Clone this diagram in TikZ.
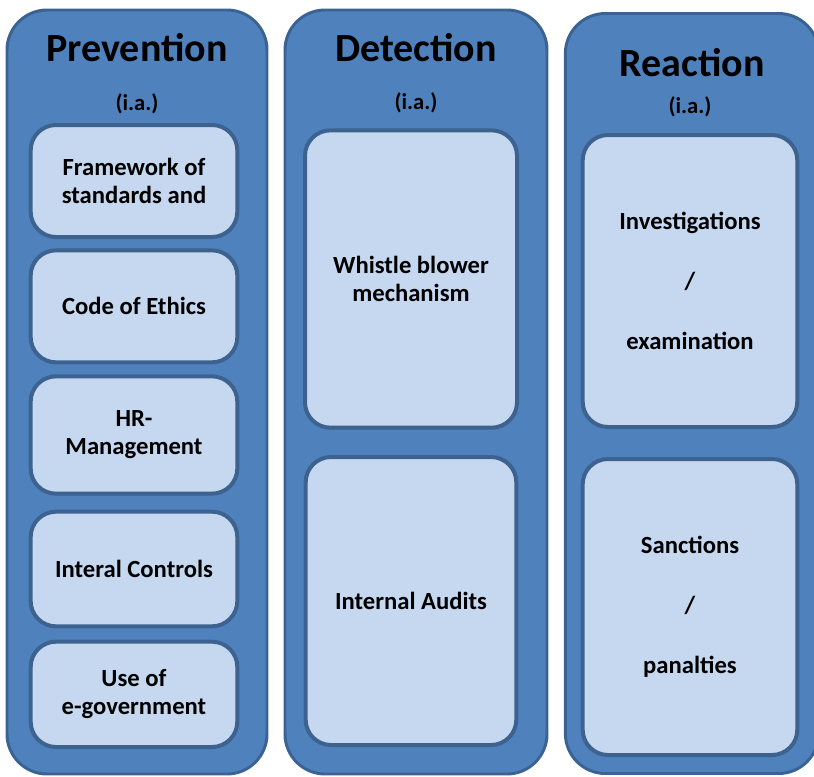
\documentclass[tikz,border=0pt]{standalone}
\usepackage{fontspec}
\setmainfont{Carlito}
\usepackage{tikz}
\usetikzlibrary{positioning}

\definecolor{colfill}{HTML}{4F81BD}
\definecolor{colline}{HTML}{3A6293}
\definecolor{boxfill}{HTML}{C6D8F0}
\definecolor{boxline}{HTML}{3D6290}

\tikzset{
	column/.style = {draw=colline, fill=colfill, line width=2.2pt, rounded corners=30pt, minimum width=#1},
	column/.default = 195pt,
	item/.style = {draw=boxline, fill=boxfill, line width=3pt, rounded corners=19pt, align=center,
		font=\bfseries\fontsize{18.5}{21}\selectfont, minimum width=155pt, inner sep=0pt},
	heading/.style = {font=\bfseries\fontsize{30}{32}\selectfont, inner sep=0pt},
	sub/.style = {font=\bfseries\fontsize{17}{19}\selectfont, inner sep=0pt}
}

\begin{document}
\begin{tikzpicture}[x=0.75pt, y=-0.75pt]
		\useasboundingbox (0,0) rectangle (814,776);
		\clip (0,0) rectangle (814,776);

		% columns
		\node (prevcol) [column, minimum height=573pt] at (137,392) {};
		\node (detcol) [column=196.5pt, minimum height=573pt] at (416,392) {};
		\node (reaccol) [column=190pt, minimum height=570pt] at (692,393.5) {};

		\node (prevhead) [heading] at (137,48) {Prevention};
		\node (prevsub) [sub] at (137,104) {(i.a.)};
		\node (dethead) [heading] at (416,48) {Detection};
		\node (detsub) [sub] at (416,103) {(i.a.)};
		\node (reachead) [heading] at (692,63) {Reaction};
		\node (reacsub) [sub] at (690,107) {(i.a.)};

		% prevention
		\node (frame) [item, minimum height=84pt] at (134,181) {Framework of\\standards and};
		\node (code) [item, minimum height=84pt, below = 7pt of frame] {Code of Ethics};
		\node (hr) [item, minimum height=88pt, below = 7.5pt of code] {HR-\\Management};
		\node (ctrl) [item, minimum height=86pt, below = 10.5pt of hr] {Interal Controls};
		\node (egov) [item, minimum height=79pt, below = 8.5pt of ctrl] {Use of\\e-government};

		% detection
		\node (whistle) [item, minimum width=159pt, minimum height=223pt] at (411,279) {Whistle blower\\mechanism};
		\node (audits) [item, minimum width=158pt, minimum height=216pt, below = 19pt of whistle] {Internal Audits};

		% reaction
		\node (invest) [item, minimum width=161pt, minimum height=219pt] at (690,281) {Investigations\\[24pt]/\\[24pt]examination};
		\node (sanct) [item, minimum width=161pt, minimum height=222pt, below = 21pt of invest] {Sanctions\\[24pt]/\\[24pt]panalties};
	\end{tikzpicture}
\end{document}
